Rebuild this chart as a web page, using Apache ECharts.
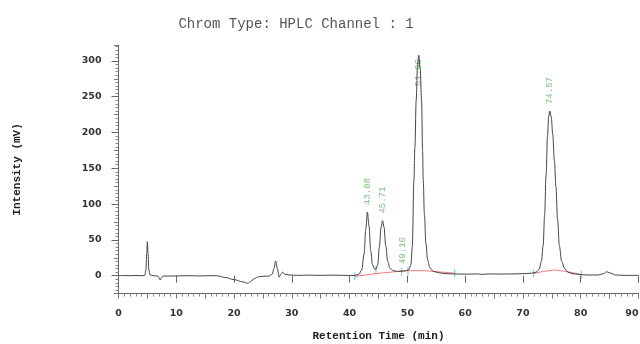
<!DOCTYPE html>
<html>
<head>
<meta charset="utf-8">
<script src="https://cdn.jsdelivr.net/npm/echarts@6/dist/echarts.min.js"></script>
<style>
  html, body { margin: 0; padding: 0; background: #fff; }
  #chart { width: 640px; height: 344px; }
</style>
</head>
<body>
<div id="chart"></div>
<script>
// detector trace, [retention time (min), intensity (mV)]
const trace = [
  [0, 0], [1, 0.3], [2, 0], [3, 0.3], [4, 0], [4.55, 0.5], [4.75, 8], [4.88, 30], [5.0, 47.5],
  [5.12, 30], [5.25, 8], [5.45, 1], [6, 0], [6.8, -0.5], [7.05, -3], [7.2, -6], [7.4, -3],
  [7.7, -0.5], [8.5, -0.5], [10, -0.3], [12, 0], [14, -0.3], [16, 0], [17, 0], [18.5, -2.5],
  [20, -5.5], [21.5, -8.5], [22.4, -10.6], [22.9, -8], [23.5, -4], [24.2, -1.5], [25, -0.8],
  [26, -0.5], [26.6, 2], [26.9, 10], [27.2, 20.5], [27.5, 10], [27.8, -2], [28.1, 2], [28.4, 5],
  [28.8, 2], [29.5, 1], [31, 0.5], [33, 0.8], [35, 0.5], [37, 0.8], [39, 0.5], [40.9, 0.3],
  [41.6, 2], [42.1, 8], [42.5, 30], [42.8, 65], [43.08, 89], [43.35, 70], [43.65, 35],
  [43.95, 16], [44.25, 10], [44.55, 9], [44.85, 15], [45.15, 40], [45.45, 68], [45.71, 77],
  [45.95, 68], [46.25, 42], [46.6, 20], [47.0, 10], [47.6, 7], [48.3, 6], [49.16, 6.5],
  [49.8, 7], [50.3, 9], [50.6, 15], [50.85, 40], [51.13, 133], [51.3, 180], [51.52, 245],
  [51.75, 292], [51.96, 308], [52.2, 290], [52.46, 245], [52.63, 175], [52.74, 133],
  [52.95, 85], [53.2, 45], [53.5, 22], [53.9, 11], [54.5, 6], [55.5, 4], [56.5, 3], [58, 2.5],
  [60, 2.2], [62, 2.5], [63, 1.8], [64, 2.5], [66, 2.3], [68, 2.5], [70, 2.8], [71.5, 3.5],
  [72.3, 5], [72.8, 9], [73.2, 20], [73.5, 42], [73.75, 85], [74.0, 140], [74.25, 195],
  [74.45, 222], [74.65, 230], [74.9, 222], [75.15, 198], [75.45, 160], [75.7, 125], [76.0, 78],
  [76.3, 42], [76.7, 20], [77.2, 10], [77.8, 5], [78.5, 3], [79.5, 2], [81, 1], [83, 1],
  [84, 3], [84.5, 5.5], [85.2, 3.5], [86, 1], [87.5, 0.5], [90, 0.5]
]

// integration baselines (red)
const baselineA = [[40.9, -1], [44.55, 3], [49.0, 6.5], [50.1, 7], [53, 7], [56, 5], [58.2, 3.5]]
const baselineB = [[71.8, 3], [73.5, 6], [75.5, 8], [77.5, 6], [80.1, 1.5]]

// peak start / end marks
const markTimes = [40.9, 44.55, 49.0, 50.1, 58.2, 71.8, 80.1]
const markLevels = [-1, 8, 6, 6.5, 3.5, 3, 1.5]

// labelled peaks
const peakTimes = [43.08, 45.71, 49.16, 51.96, 74.57]
const peakHeights = [89, 77, 6.5, 308, 230]
const peakLabels = ['43.08', '45.71', '49.16', '51.96', '74.57']

const yLabels = [0, 50, 100, 150, 200, 250, 300]
const xLabels = [0, 10, 20, 30, 40, 50, 60, 70, 80, 90]

const chart = echarts.init(document.getElementById('chart'))

const tickFont = { fontFamily: 'DejaVu Sans', fontWeight: 'bold', fontSize: 9.5, color: '#333' }
const monoName = { fontFamily: 'Liberation Mono', fontWeight: 'bold', fontSize: 11, color: '#222' }

chart.setOption({
  animation: false,
  backgroundColor: '#fff',
  title: {
    text: 'Chrom Type: HPLC Channel : 1',
    left: 291,
    top: 12,
    textAlign: 'center',
    textStyle: { fontFamily: 'Liberation Mono', fontWeight: 'normal', fontSize: 14, color: '#555' }
  },
  grid: { left: 118.5, right: 1.5, top: 45.2, bottom: 50.4, outerBoundsMode: 'none' },
  xAxis: [
    {
      type: 'value', min: 0, max: 90, interval: 5,
      name: 'Retention Time (min)', nameLocation: 'middle', nameGap: 37,
      nameTextStyle: monoName, nameMoveOverlap: false,
      axisLine: { show: true, onZero: false, lineStyle: { color: '#666', width: 1 } },
      axisTick: { show: true, inside: false, length: 5, lineStyle: { color: '#777' } },
      minorTick: { show: true, splitNumber: 5, length: 3, lineStyle: { color: '#888' } },
      splitLine: { show: false },
      axisLabel: Object.assign({ margin: 15, customValues: xLabels, alignMaxLabel: 'right' }, tickFont)
    },
    {
      type: 'value', min: 0, max: 90, position: 'bottom', gridIndex: 0,
      axisLine: { show: false },
      axisTick: { show: true, length: 7, customValues: xLabels, lineStyle: { color: '#666' } },
      axisLabel: { show: false },
      splitLine: { show: false }
    }
  ],
  yAxis: [
    {
      type: 'value', min: -25, max: 322, interval: 25,
      name: 'Intensity (mV)', nameLocation: 'middle', nameGap: 96, nameRotate: 90,
      nameTextStyle: monoName, nameMoveOverlap: false,
      axisLine: { show: true, onZero: false, lineStyle: { color: '#666', width: 1 } },
      axisTick: { show: true, length: 4.5, lineStyle: { color: '#777' } },
      minorTick: { show: true, splitNumber: 5, length: 3, lineStyle: { color: '#888' } },
      splitLine: { show: false },
      axisLabel: Object.assign({ margin: 17, customValues: yLabels }, tickFont)
    },
    {
      type: 'value', min: -25, max: 322, position: 'left', gridIndex: 0,
      axisLine: { show: false },
      axisTick: { show: true, length: 7, customValues: yLabels, lineStyle: { color: '#666' } },
      axisLabel: { show: false },
      splitLine: { show: false }
    }
  ],
  series: [
    {
      type: 'line', data: baselineA, symbol: 'none', silent: true,
      lineStyle: { color: '#f07a7a', width: 1 }
    },
    {
      type: 'line', data: baselineB, symbol: 'none', silent: true,
      lineStyle: { color: '#f07a7a', width: 1 }
    },
    {
      type: 'line', data: trace, symbol: 'none', smooth: 0.35, smoothMonotone: 'x',
      lineStyle: { color: '#444', width: 1 }
    },
    {
      type: 'scatter', symbol: 'rect', symbolSize: [1, 8], silent: true,
      itemStyle: { color: '#40b8b8' },
      data: markTimes.map((t, i) => [t, markLevels[i]])
    },
    {
      type: 'scatter', symbolSize: 0, silent: true,
      data: peakTimes.map((t, i) => ({ value: [t, Math.min(peakHeights[i], 255)], name: peakLabels[i] })),
      label: {
        show: true, position: 'top', distance: 7, rotate: 90,
        align: 'left', verticalAlign: 'middle',
        formatter: p => p.name,
        fontFamily: 'Liberation Mono', fontSize: 9, color: '#5caf5c'
      }
    }
  ]
})
</script>
</body>
</html>
